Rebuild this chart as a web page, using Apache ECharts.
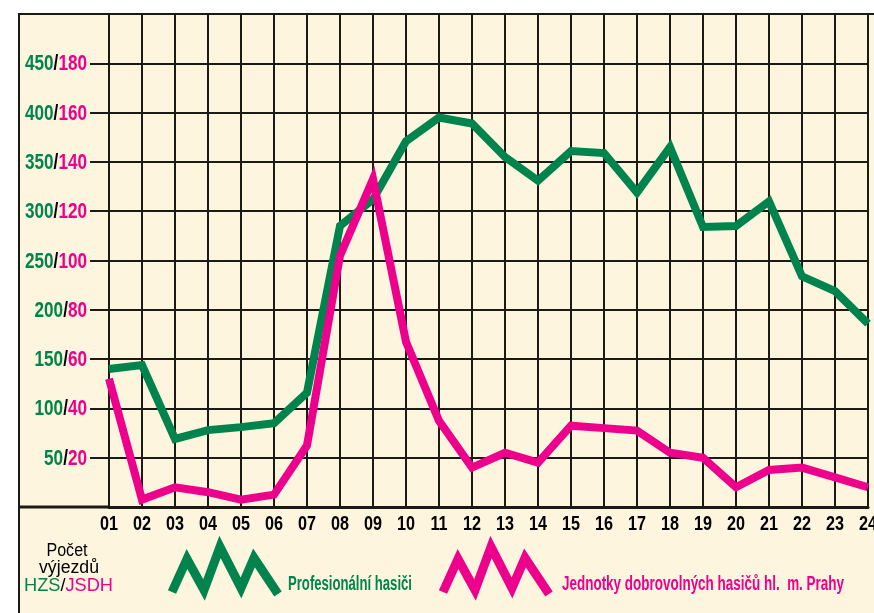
<!DOCTYPE html>
<html>
<head>
<meta charset="utf-8">
<script src="https://cdn.jsdelivr.net/npm/echarts@6/dist/echarts.min.js"></script>
<style>
html,body{margin:0;padding:0;background:#fff;}
#chart{width:874px;height:613px;}
</style>
</head>
<body>
<div id="chart"></div>
<script>
// Hours of the day
const hours = ['01','02','03','04','05','06','07','08','09','10','11','12','13','14','15','16','17','18','19','20','21','22','23','24'];
// Profesionální hasiči (HZS) – number of call-outs
const hzs = [140,144,69,78,81,85,116,285,312,371,395,389,355,331,361,359,319,365,284,285,310,234,219,186];
// Jednotky dobrovolných hasičů (JSDH) – number of call-outs
const jsdh = [52,3,8,6,3,5,25,102,133,67,35,16,22,18,33,32,31,22,20,8,15,16,12,8];
// Tick labels
const hzsTicks = [50,100,150,200,250,300,350,400,450];
const jsdhTicks = [20,40,60,80,100,120,140,160,180];

const GREEN = '#00834C';
const PINK = '#EC008C';
const CREAM = '#FDF5DE';
const INK = '#1c1a17';
const FONT = "'Liberation Sans','Arial',sans-serif";

const cnv = document.createElement('canvas').getContext('2d');
function measure(text, font) { cnv.font = font; return cnv.measureText(text).width; }

const chart = echarts.init(document.getElementById('chart'), null, {renderer: 'canvas'});

function zig(x0, color) {
  const dx = [3,18,35,51,72,85,109];
  const dy = [592,559,590,547,588,558,594];
  return {
    type: 'polyline', silent: true, z: 10,
    shape: {points: dx.map((d, i) => [x0 + d, dy[i]])},
    style: {stroke: color, lineWidth: 9, fill: null, lineJoin: 'miter', miterLimit: 10, lineCap: 'butt'}
  };
}

function fitText(text, x, y, width, font, fill, align) {
  const w = measure(text, font);
  return {
    type: 'text', silent: true, z: 10, x: x, y: y, scaleX: width / w, scaleY: 1,
    style: {x: 0, y: 0, text: text, font: font, fill: fill, textAlign: align || 'left', textVerticalAlign: 'middle'}
  };
}

const option = {
  backgroundColor: '#ffffff',
  animation: false,
  grid: {left: 109, right: 6, top: 14, bottom: 106, containLabel: false, outerBoundsMode: 'none'},
  xAxis: {
    type: 'category',
    data: hours,
    boundaryGap: false,
    axisLine: {show: true, lineStyle: {color: INK, width: 3}},
    axisTick: {show: false},
    splitLine: {show: true, lineStyle: {color: INK, width: 2}},
    axisLabel: {show: false}
  },
  yAxis: [
    {
      type: 'value', min: 0, max: 500, interval: 50,
      axisLine: {show: false},
      axisTick: {show: true, length: 19, lineStyle: {color: INK, width: 2}},
      splitLine: {show: true, lineStyle: {color: INK, width: 2}},
      axisLabel: {show: false}
    },
    {
      type: 'value', min: 0, max: 200, interval: 20, show: false,
      splitLine: {show: false}
    }
  ],
  series: [
    {
      name: 'Profesionální hasiči', type: 'line', data: hzs, yAxisIndex: 0,
      symbol: 'none', z: 3,
      lineStyle: {color: GREEN, width: 8, join: 'miter', cap: 'butt'}
    },
    {
      name: 'Jednotky dobrovolných hasičů hl. m. Prahy', type: 'line', data: jsdh, yAxisIndex: 1,
      symbol: 'none', z: 4,
      lineStyle: {color: PINK, width: 8, join: 'miter', cap: 'butt'}
    }
  ]
};
chart.setOption(option);

// Y-axis tick labels placed through the axis scale (condensed type)
const yFont = 'bold 22px ' + FONT;
const yScale = 62 / measure('450/180', yFont);
const yLabels = hzsTicks.map(function (v, i) {
  const py = chart.convertToPixel({yAxisIndex: 0}, v);
  return {
    type: 'text', silent: true, z: 10, x: 87, y: py + 1, scaleX: yScale,
    style: {
      x: 0, y: 0, textAlign: 'right', textVerticalAlign: 'middle',
      text: '{g|' + hzsTicks[i] + '}{k|/}{p|' + jsdhTicks[i] + '}',
      rich: {
        g: {fill: GREEN, fontFamily: FONT, fontWeight: 'bold', fontSize: 22},
        k: {fill: '#000', fontFamily: FONT, fontWeight: 'bold', fontSize: 22},
        p: {fill: PINK, fontFamily: FONT, fontWeight: 'bold', fontSize: 22}
      }
    }
  };
});

// X-axis category labels placed through the axis scale (condensed type)
const xFont = 'bold 21px ' + FONT;
const xScale = 18 / measure('01', xFont);
const xLabels = hours.map(function (h) {
  const px = chart.convertToPixel({xAxisIndex: 0}, h);
  return {
    type: 'text', silent: true, z: 10, x: px, y: 524, scaleX: xScale,
    style: {x: 0, y: 0, text: h, font: xFont, fill: '#000', textAlign: 'center', textVerticalAlign: 'middle'}
  };
});

const lf = '18px ' + FONT;
const bf = 'bold 20px ' + FONT;
const hzsW = measure('HZS/JSDH', lf);
const graphics = [
  {type: 'rect', silent: true, z: -10, shape: {x: 19, y: 14, width: 855, height: 599}, style: {fill: CREAM}},
  {type: 'line', silent: true, z: 5, shape: {x1: 19, y1: 14, x2: 19, y2: 613}, style: {stroke: INK, lineWidth: 2}},
  {type: 'line', silent: true, z: 5, shape: {x1: 18, y1: 14, x2: 874, y2: 14}, style: {stroke: INK, lineWidth: 2}},
  {type: 'line', silent: true, z: 5, shape: {x1: 19, y1: 507, x2: 110, y2: 507}, style: {stroke: INK, lineWidth: 3}},
  zig(169, GREEN),
  zig(440, PINK),
  fitText('Počet', 67, 551, 41, lf, '#000', 'center'),
  fitText('výjezdů', 69, 568, 60, lf, '#000', 'center'),
  {
    type: 'text', silent: true, z: 10, x: 24, y: 586, scaleX: 89 / hzsW,
    style: {
      x: 0, y: 0, textVerticalAlign: 'middle', text: '{g|HZS}{k|/}{p|JSDH}',
      rich: {
        g: {fill: GREEN, fontFamily: FONT, fontSize: 18},
        k: {fill: '#000', fontFamily: FONT, fontSize: 18},
        p: {fill: PINK, fontFamily: FONT, fontSize: 18}
      }
    }
  },
  fitText('Profesionální hasiči', 288, 584, 124, bf, GREEN, 'left'),
  fitText('Jednotky dobrovolných hasičů hl.  m. Prahy', 562, 584, 282, bf, PINK, 'left')
].concat(yLabels, xLabels);

chart.setOption({graphic: graphics});
</script>
</body>
</html>
